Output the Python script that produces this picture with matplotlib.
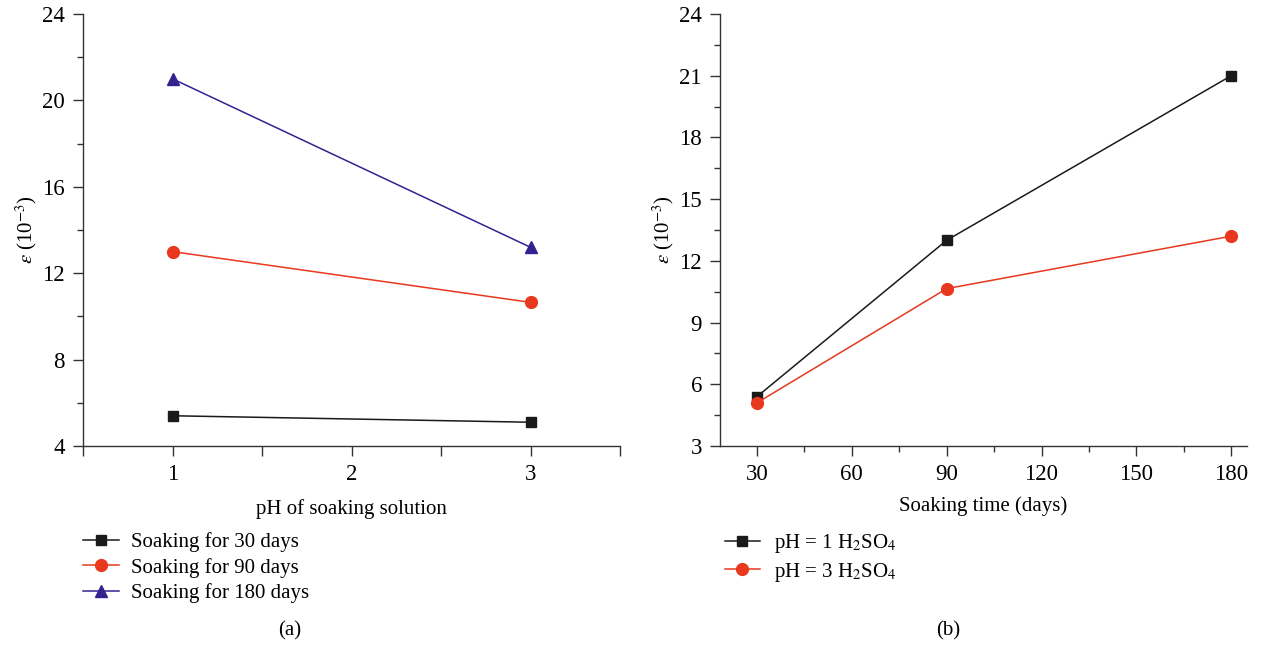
import numpy as np
import matplotlib
matplotlib.use("Agg")
import matplotlib.pyplot as plt
from matplotlib.ticker import MultipleLocator

plt.rcParams['font.family'] = ['Liberation Serif', 'DejaVu Serif']
plt.rcParams['mathtext.fontset'] = 'stix'
plt.rcParams['font.size'] = 15

# data
ph = [1, 3]
days = [30, 90, 180]
strain_30d = [5.4, 5.1]
strain_90d = [13.0, 10.65]
strain_180d = [21.0, 13.2]
strain_ph1 = [5.4, 13.0, 21.0]
strain_ph3 = [5.1, 10.65, 13.2]

black = '#1a1a1a'
red = '#e8381e'
purple = '#33218f'

fig = plt.figure(figsize=(12.64, 6.46), dpi=100)
W, H = 1264, 646
ax1 = fig.add_axes([83 / W, 1 - 446 / H, (620 - 83) / W, (446 - 14) / H])
ax2 = fig.add_axes([720 / W, 1 - 446 / H, (1247 - 720) / W, (446 - 14) / H])

# (a)
ax1.plot(ph, strain_30d, color=black, lw=1.1, marker='s', ms=7.5, label='Soaking for 30 days')
ax1.plot(ph, strain_90d, color=red, lw=1.1, marker='o', ms=8.5, label='Soaking for 90 days')
ax1.plot(ph, strain_180d, color=purple, lw=1.1, marker='^', ms=9, label='Soaking for 180 days')
ax1.set_xlim(0.5, 3.5)
ax1.set_ylim(4, 24)
ax1.xaxis.set_major_locator(MultipleLocator(1))
ax1.xaxis.set_minor_locator(MultipleLocator(0.5))
ax1.yaxis.set_major_locator(MultipleLocator(4))
ax1.yaxis.set_minor_locator(MultipleLocator(2))
ax1.set_xlabel('pH of soaking solution', labelpad=10)

# (b)
ax2.plot(days, strain_ph1, color=black, lw=1.1, marker='s', ms=7.5, label='pH = 1 H$_2$SO$_4$')
ax2.plot(days, strain_ph3, color=red, lw=1.1, marker='o', ms=8.5, label='pH = 3 H$_2$SO$_4$')
ax2.set_xlim(18.3, 185)
ax2.set_ylim(3, 24)
ax2.xaxis.set_major_locator(MultipleLocator(30))
ax2.xaxis.set_minor_locator(MultipleLocator(15))
ax2.yaxis.set_major_locator(MultipleLocator(3))
ax2.yaxis.set_minor_locator(MultipleLocator(1.5))
ax2.set_xlabel('Soaking time (days)', labelpad=8)

for ax in (ax1, ax2):
    ax.spines['top'].set_visible(False)
    ax.spines['right'].set_visible(False)
    for s in ('left', 'bottom'):
        ax.spines[s].set_color('#333333')
        ax.spines[s].set_linewidth(1.0)
    ax.tick_params(which='major', direction='out', length=7, width=1, color='#333333',
                   pad=6, labelsize=16.5)
    ax.tick_params(which='minor', direction='out', length=4, width=1, color='#333333')
    ax.set_ylabel(r'$\varepsilon$ (10$^{-3}$)', labelpad=2)

ax1.tick_params(axis='x', which='minor', length=7)

ax1.legend(loc='upper left', bbox_to_anchor=(-0.015, -0.18), frameon=False,
           handlelength=1.7, handletextpad=0.6, labelspacing=0.27, borderaxespad=0)
ax2.legend(loc='upper left', bbox_to_anchor=(-0.007, -0.18), frameon=False,
           handlelength=1.7, handletextpad=0.65, labelspacing=0.27, borderaxespad=0)

fig.text(290 / W, 1 - 631 / H, '(a)', ha='center', va='center')
fig.text(948 / W, 1 - 631 / H, '(b)', ha='center', va='center')

fig.savefig('out.png', dpi=100)
